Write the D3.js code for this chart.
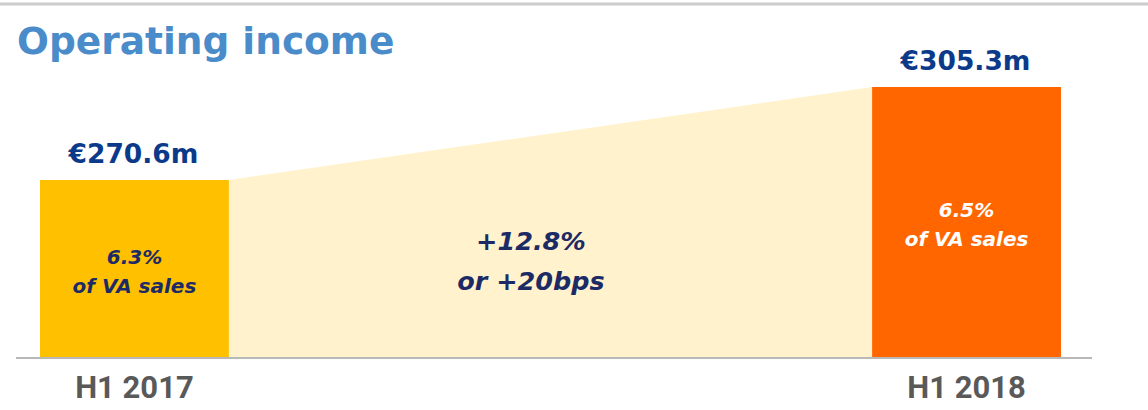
<!DOCTYPE html>
<html>
<head>
<meta charset="utf-8">
<script src="https://cdn.jsdelivr.net/npm/d3@7"></script>
<style>
  body { margin: 0; background: #fff; }
  svg { display: block; }
</style>
</head>
<body>
<svg id="chart" width="1148" height="410"></svg>
<script>
const periods = ["H1 2017", "H1 2018"];
const income = [270.6, 305.3];
const valueLabels = ["€270.6m", "€305.3m"];
const marginPct = ["6.3%", "6.5%"];
const growthLabels = ["+12.8%", "or +20bps"];

const svg = d3.select("svg#chart");
const width = +svg.attr("width");
const baseY = 357;
const font = "'DejaVu Sans', 'Open Sans', sans-serif";

// axis does not start at zero; bars are drawn from a truncated base
const x = d3.scaleBand().domain(periods).range([40, 1061]).paddingInner(0.773).paddingOuter(0);
const y = d3.scaleLinear().domain([204.56, 305.3]).range([baseY, 87]);

const barColors = ["#ffc000", "#ff6600"];
const innerText = ["#1c2a66", "#ffffff"];

// top rule
svg.append("line")
  .attr("x1", 0).attr("x2", width)
  .attr("y1", 4).attr("y2", 4)
  .attr("stroke", "#cdcdcd").attr("stroke-width", 3);

svg.append("text")
  .attr("x", 17).attr("y", 54)
  .attr("fill", "#4a8bca")
  .attr("font-family", font)
  .attr("font-weight", 700)
  .attr("font-size", 37.5)
  .text("Operating income");

// growth wedge between the bars
const wedge = [
  [x(periods[0]) + x.bandwidth(), y(income[0])],
  [x(periods[1]), y(income[1])],
  [x(periods[1]), y.range()[0]],
  [x(periods[0]) + x.bandwidth(), y.range()[0]]
];
svg.append("path")
  .attr("d", d3.line()(wedge) + "Z")
  .attr("fill", "#fff2cc");

svg.selectAll("rect.bar")
  .data(income)
  .join("rect")
  .attr("class", "bar")
  .attr("x", (d, i) => x(periods[i]))
  .attr("y", d => y(d))
  .attr("width", x.bandwidth())
  .attr("height", d => baseY - y(d))
  .attr("fill", (d, i) => barColors[i]);

// baseline
svg.append("line")
  .attr("x1", 16).attr("x2", 1092)
  .attr("y1", baseY + 1).attr("y2", baseY + 1)
  .attr("stroke", "#b8b8b8").attr("stroke-width", 2);

const cx = i => x(periods[i]) + x.bandwidth() / 2;

// value labels above bars
svg.selectAll("text.value")
  .data(income)
  .join("text")
  .attr("class", "value")
  .attr("x", (d, i) => cx(i) - 1)
  .attr("y", d => y(d) - 17)
  .attr("text-anchor", "middle")
  .attr("fill", "#0b3a8a")
  .attr("font-family", font)
  .attr("font-weight", 700)
  .attr("font-size", 26.5)
  .text((d, i) => valueLabels[i]);

// margin labels inside bars
const inner = svg.selectAll("g.inner")
  .data(income)
  .join("g")
  .attr("class", "inner")
  .attr("transform", (d, i) => `translate(${cx(i)},${(y(d) + baseY) / 2})`)
  .attr("font-family", font)
  .attr("font-weight", 700)
  .attr("font-style", "italic")
  .attr("font-size", 20)
  .attr("text-anchor", "middle")
  .attr("fill", (d, i) => innerText[i]);
inner.append("text").attr("y", -5).text((d, i) => marginPct[i]);
inner.append("text").attr("y", 24).text("of VA sales");

// growth annotation
svg.selectAll("text.growth")
  .data(growthLabels)
  .join("text")
  .attr("class", "growth")
  .attr("x", 531)
  .attr("y", (d, i) => 250 + i * 40)
  .attr("text-anchor", "middle")
  .attr("fill", "#1c2a66")
  .attr("font-family", font)
  .attr("font-weight", 700)
  .attr("font-style", "italic")
  .attr("font-size", 25.5)
  .text(d => d);

// category axis
svg.append("g")
  .attr("transform", `translate(0,${baseY})`)
  .call(d3.axisBottom(x).tickSize(0).tickPadding(0))
  .call(g => g.select(".domain").remove())
  .call(g => g.selectAll("text")
    .attr("dy", 0)
    .attr("y", 41)
    .attr("fill", "#595959")
    .attr("font-family", "Roboto, sans-serif")
    .attr("font-weight", 700)
    .attr("font-size", 31));
</script>
</body>
</html>
